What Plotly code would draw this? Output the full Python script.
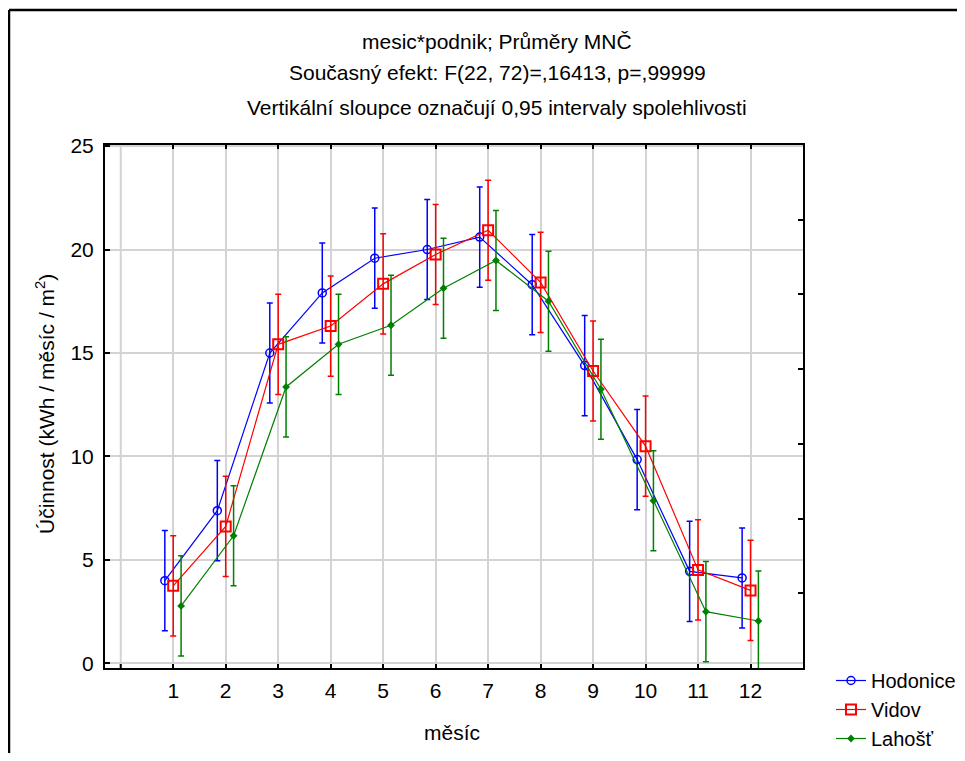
import plotly.graph_objects as go

months = [1, 2, 3, 4, 5, 6, 7, 8, 9, 10, 11, 12]
tick_labels = ["1", "2", "3", "4", "5", "6", "7", "8", "9", "10", "11", "12"]

hodonice = [4.0, 7.38, 15.0, 17.9, 19.58, 20.0, 20.6, 18.3, 14.39, 9.85, 4.45, 4.13]
vidov = [3.75, 6.62, 15.42, 16.3, 18.34, 19.76, 20.93, 18.41, 14.13, 10.5, 4.52, 3.53]
lahost = [2.78, 6.17, 13.36, 15.42, 16.34, 18.13, 19.47, 17.5, 13.25, 7.86, 2.5, 2.05]

ci_hodonice = [2.42] * 12
ci_vidov = [2.42] * 12
ci_lahost = [2.42] * 12

FONT = "Liberation Sans, Arial, sans-serif"

# page has an 8px body margin; keep the whole page inside the 965x761 window
OFF = 8
W, H = 965 - 2 * OFF, 761 - 2 * OFF
# plot area in page coordinates: x 105..803, y 145..668
ML = 105 - OFF
MT = 145 - OFF
MR = W - (803 - OFF)
MB = H - (668 - OFF)
PW = W - ML - MR
PH = H - MT - MB


def px(x_page):
    return (x_page - OFF - ML) / PW


def py(y_page):
    return (H - MB - (y_page - OFF)) / PH


series = [
    ("Hodonice", hodonice, ci_hodonice, "#0000ff", -0.16, dict(symbol="circle-open", size=8, line=dict(width=1.5, color="#0000ff"))),
    ("Vidov", vidov, ci_vidov, "#ff0000", 0.0, dict(symbol="square-open", size=10, line=dict(width=2, color="#ff0000"))),
    ("Lahošť", lahost, ci_lahost, "#008000", 0.15, dict(symbol="diamond", size=6, color="#008000")),
]

fig = go.Figure()
for name, vals, ci, col, off, mk in series:
    fig.add_trace(go.Scatter(
        x=[m + off for m in months], y=vals, name=name, mode="lines+markers",
        line=dict(color=col, width=1.2), marker=mk,
        error_y=dict(type="data", array=ci, visible=True, color=col, thickness=1.5, width=3),
        legendgroup=name,
    ))

# invisible trace to activate the right-hand tick axis
fig.add_trace(go.Scatter(x=[None], y=[None], yaxis="y2", showlegend=False, hoverinfo="skip"))

fig.update_layout(
    width=W, height=H,
    margin=dict(l=ML, r=MR, t=MT, b=MB, autoexpand=False),
    paper_bgcolor="white", plot_bgcolor="white",
    font=dict(family=FONT, size=21, color="black"),
    showlegend=True,
    legend=dict(x=px(831), y=py(661), xanchor="left", yanchor="top",
                font=dict(family=FONT, size=20, color="black"),
                traceorder="grouped", tracegroupgap=0, bgcolor="rgba(0,0,0,0)"),
    xaxis=dict(range=[-0.3, 13], tickvals=months, ticktext=tick_labels,
               ticks="inside", ticklen=4, tickwidth=2, tickcolor="black",
               showgrid=True, gridcolor="#d3d3d3", gridwidth=2, zeroline=False,
               showline=True, linecolor="black", linewidth=2, mirror="ticks",
               tickfont=dict(family=FONT, size=21, color="black"),
               ticklabelstandoff=3, automargin=False),
    yaxis=dict(range=[-0.22, 25.05], tickvals=[0, 5, 10, 15, 20, 25],
               ticks="inside", ticklen=5, tickwidth=2, tickcolor="black",
               showgrid=True, gridcolor="#d3d3d3", gridwidth=2, zeroline=False,
               showline=True, linecolor="black", linewidth=2, mirror=True,
               tickfont=dict(family=FONT, size=21, color="black"),
               ticklabelstandoff=5, automargin=False),
    yaxis2=dict(overlaying="y", side="right", range=[0, 7], tickvals=list(range(0, 8)),
                ticks="inside", ticklen=5, tickwidth=2, tickcolor="black",
                showticklabels=False, showgrid=False, zeroline=False, showline=False,
                automargin=False),
)

# extra vertical grid line at x = 0 (no label there)
fig.add_shape(type="line", xref="x", yref="paper", x0=0, x1=0, y0=0, y1=1,
              line=dict(color="#d3d3d3", width=2), layer="below")
fig.add_shape(type="line", xref="x", yref="paper", x0=0, x1=0, y0=0, y1=py(664),
              line=dict(color="black", width=2))

titles = [
    ("mesic*podnik; Průměry MNČ", 41),
    ("Současný efekt: F(22, 72)=,16413, p=,99999", 73),
    ("Vertikální sloupce označují 0,95 intervaly spolehlivosti", 108),
]
for txt, yy in titles:
    fig.add_annotation(x=px(497), y=py(yy), xref="paper", yref="paper", text=txt,
                       showarrow=False, xanchor="center", yanchor="middle",
                       font=dict(family=FONT, size=21, color="black"))

# axis titles
fig.add_annotation(x=px(452), y=py(732), xref="paper", yref="paper", text="měsíc",
                   showarrow=False, xanchor="center", yanchor="middle",
                   font=dict(family=FONT, size=21, color="black"))
fig.add_annotation(x=px(45), y=py(404), xref="paper", yref="paper",
                   text="Účinnost (kWh / měsíc / m<sup>2</sup>)", textangle=-90,
                   showarrow=False, xanchor="center", yanchor="middle",
                   font=dict(family=FONT, size=21, color="black"))

# outer frame (left and top edges)
fig.add_shape(type="line", xref="paper", yref="paper", x0=px(9), y0=py(770), x1=px(9), y1=py(10),
              line=dict(color="black", width=2.5))
fig.add_shape(type="line", xref="paper", yref="paper", x0=px(9), y0=py(10), x1=px(975), y1=py(10),
              line=dict(color="black", width=2.5))

fig.write_html("out.html")
